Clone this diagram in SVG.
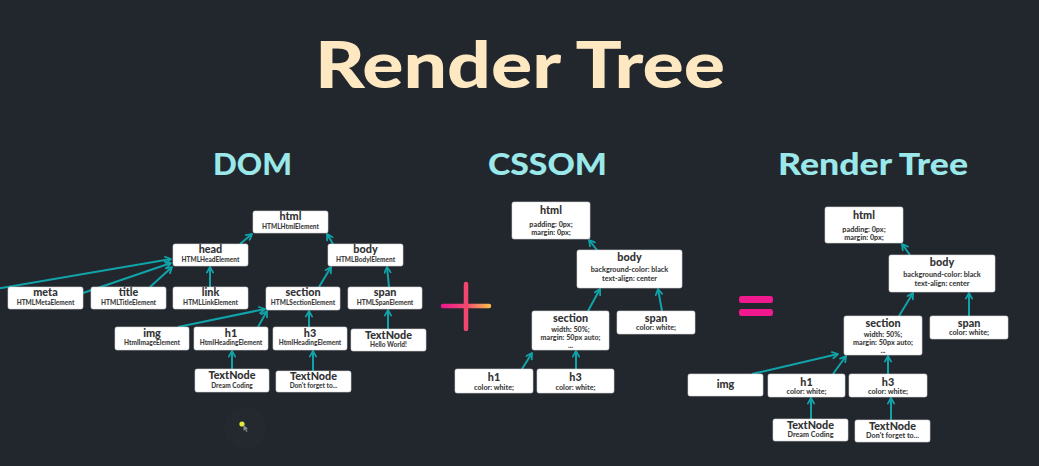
<svg xmlns="http://www.w3.org/2000/svg" width="1039" height="466" viewBox="0 0 1039 466">
<defs>
<marker id="ah" viewBox="0 0 10 10" refX="8.5" refY="5" markerWidth="8" markerHeight="8" markerUnits="userSpaceOnUse" orient="auto">
<path d="M1.5,1 L8.5,5 L1.5,9" fill="none" stroke="#10a4aa" stroke-width="2.2" stroke-linecap="round" stroke-linejoin="round"/>
</marker>
<linearGradient id="plusg" gradientUnits="userSpaceOnUse" x1="443" y1="0" x2="489" y2="0">
<stop offset="0" stop-color="#ec1a8e"/>
<stop offset="0.5" stop-color="#f24a72"/>
<stop offset="1" stop-color="#f8b84c"/>
</linearGradient>
</defs>
<style>
.bg{fill:#22272e}
.title{font-family:Lato,"Liberation Sans",sans-serif;font-weight:900;fill:#fde8c2}
.head{font-family:Lato,"Liberation Sans",sans-serif;font-weight:900;fill:#9ae8e9}
.box{fill:#ffffff;stroke:#d8d8d8;stroke-width:0.6}
.nm{font-family:Lato,"Liberation Sans",sans-serif;font-weight:900;font-size:10.8px;fill:#333335;text-anchor:middle}
.sb{font-family:Lato,"Liberation Sans",sans-serif;font-weight:900;font-size:6.5px;fill:#3e3e40;text-anchor:middle}
.pr{font-family:Lato,"Liberation Sans",sans-serif;font-weight:900;font-size:7.2px;fill:#3e3e40;text-anchor:middle}
.cn line{stroke:#10a4aa;stroke-width:2;marker-end:url(#ah)}
</style>
<rect class="bg" x="0" y="0" width="1039" height="466"/>

<text class="title" x="315" y="88" font-size="64" textLength="410" lengthAdjust="spacingAndGlyphs">Render Tree</text>
<text class="head" x="213" y="175" font-size="30" textLength="79" lengthAdjust="spacingAndGlyphs">DOM</text>
<text class="head" x="488" y="175" font-size="30" textLength="119" lengthAdjust="spacingAndGlyphs">CSSOM</text>
<text class="head" x="778" y="175" font-size="30" textLength="190" lengthAdjust="spacingAndGlyphs">Render Tree</text>

<g id="plus">
<line x1="443" y1="306" x2="489" y2="306" stroke="url(#plusg)" stroke-width="4.5" stroke-linecap="round"/>
<line x1="466" y1="284" x2="466" y2="329" stroke="#f2466f" stroke-width="4.5" stroke-linecap="round"/>
</g>
<g id="equals">
<rect x="739" y="296" width="34" height="7" rx="2.5" fill="#f0198d"/>
<rect x="739" y="309" width="34" height="7" rx="2.5" fill="#f0198d"/>
</g>

<g id="cursor">
<circle cx="245" cy="428" r="21" fill="#242930"/>
<circle cx="242" cy="424" r="2.6" fill="#e4ea3a"/>
<path d="M243.5,425 L243.5,431 L245,429.5 L246.5,432 L247.5,431.5 L246.3,429 L248,428.8 Z" fill="#8a8c90"/>
</g>

<g class="cn" id="connectors">
<!-- DOM -->
<line x1="240" y1="244" x2="252" y2="234"/>
<line x1="333" y1="244" x2="327" y2="234"/>
<line x1="-5" y1="289" x2="171" y2="259"/>
<line x1="83" y1="293" x2="171" y2="263"/>
<line x1="150" y1="287" x2="172" y2="267"/>
<line x1="210" y1="287" x2="210" y2="267"/>
<line x1="319" y1="287" x2="331" y2="267"/>
<line x1="389" y1="287" x2="387" y2="267"/>
<line x1="178" y1="327" x2="265" y2="309"/>
<line x1="258" y1="327" x2="267" y2="311"/>
<line x1="309" y1="327" x2="309" y2="311"/>
<line x1="388" y1="329" x2="388" y2="310"/>
<line x1="232" y1="369" x2="232" y2="351"/>
<line x1="313" y1="371" x2="313" y2="351"/>
<!-- CSSOM -->
<line x1="597" y1="250" x2="589" y2="240"/>
<line x1="588" y1="311" x2="600" y2="289"/>
<line x1="662" y1="311" x2="658" y2="289"/>
<line x1="522" y1="369" x2="532" y2="353"/>
<line x1="576" y1="369" x2="576" y2="351"/>
<!-- Render Tree -->
<line x1="910" y1="255" x2="902" y2="244"/>
<line x1="899" y1="316" x2="913" y2="293"/>
<line x1="969" y1="316" x2="969" y2="293"/>
<line x1="752" y1="374" x2="838" y2="354"/>
<line x1="833" y1="374" x2="846" y2="356"/>
<line x1="888" y1="374" x2="888" y2="356"/>
<line x1="811" y1="419" x2="811" y2="398"/>
<line x1="891" y1="420" x2="891" y2="398"/>
</g>

<!-- DOM nodes -->
<g id="dom-html"><rect class="box" x="253" y="211" width="75" height="22" rx="2"/><text class="nm" x="290.5" y="220">html</text><text class="sb" x="290.5" y="228.5">HTMLHtmlElement</text></g>
<g id="dom-head"><rect class="box" x="173" y="244" width="75" height="22" rx="2"/><text class="nm" x="210.5" y="253">head</text><text class="sb" x="210.5" y="261.5">HTMLHeadElement</text></g>
<g id="dom-body"><rect class="box" x="328" y="244" width="75" height="22" rx="2"/><text class="nm" x="365.5" y="253">body</text><text class="sb" x="365.5" y="261.5">HTMLBodylElement</text></g>
<g id="dom-meta"><rect class="box" x="8" y="287" width="75" height="22" rx="2"/><text class="nm" x="45.5" y="296">meta</text><text class="sb" x="45.5" y="304.5">HTMLMetaElement</text></g>
<g id="dom-title"><rect class="box" x="91" y="287" width="75" height="22" rx="2"/><text class="nm" x="128.5" y="296">title</text><text class="sb" x="128.5" y="304.5">HTMLTitleElement</text></g>
<g id="dom-link"><rect class="box" x="173" y="287" width="75" height="22" rx="2"/><text class="nm" x="210.5" y="296">link</text><text class="sb" x="210.5" y="304.5">HTMLLinkElement</text></g>
<g id="dom-section"><rect class="box" x="266" y="287" width="74" height="23" rx="2"/><text class="nm" x="303" y="296">section</text><text class="sb" x="303" y="305">HTMLSectionElement</text></g>
<g id="dom-span"><rect class="box" x="348" y="287" width="74" height="22" rx="2"/><text class="nm" x="385" y="296">span</text><text class="sb" x="385" y="304.5">HTMLSpanElement</text></g>
<g id="dom-img"><rect class="box" x="115" y="327" width="74" height="23" rx="2"/><text class="nm" x="152" y="336.5">img</text><text class="sb" x="152" y="345">HtmlImageElement</text></g>
<g id="dom-h1"><rect class="box" x="194" y="327" width="74" height="23" rx="2"/><text class="nm" x="231" y="336.5">h1</text><text class="sb" x="231" y="345">HtmlHeadingElement</text></g>
<g id="dom-h3"><rect class="box" x="273" y="327" width="74" height="23" rx="2"/><text class="nm" x="310" y="336.5">h3</text><text class="sb" x="310" y="345">HtmlHeadingElement</text></g>
<g id="dom-text-hello"><rect class="box" x="351" y="329" width="75" height="22" rx="2"/><text class="nm" x="388.5" y="338.5">TextNode</text><text class="sb" x="388.5" y="346.5">Hello World!</text></g>
<g id="dom-text-dream"><rect class="box" x="195" y="369" width="74" height="23" rx="2"/><text class="nm" x="232" y="378.5">TextNode</text><text class="sb" x="232" y="387.5">Dream Coding</text></g>
<g id="dom-text-dont"><rect class="box" x="276" y="371" width="75" height="21" rx="2"/><text class="nm" x="313.5" y="380">TextNode</text><text class="sb" x="313.5" y="388">Don't forget to...</text></g>

<!-- CSSOM nodes -->
<g id="css-html"><rect class="box" x="512" y="202" width="78" height="37" rx="2"/><text class="nm" x="551" y="214">html</text><text class="pr" x="551" y="227">padding: 0px;</text><text class="pr" x="551" y="235">margin: 0px;</text></g>
<g id="css-body"><rect class="box" x="577" y="250" width="105" height="38" rx="2"/><text class="nm" x="629.5" y="260.5">body</text><text class="pr" x="629.5" y="272">background-color: black</text><text class="pr" x="629.5" y="281">text-align: center</text></g>
<g id="css-section"><rect class="box" x="532" y="311" width="77" height="39" rx="2"/><text class="nm" x="570.5" y="321.5">section</text><text class="pr" x="570.5" y="331.5">width: 50%;</text><text class="pr" x="570.5" y="340">margin: 50px auto;</text><text class="pr" x="570.5" y="348">...</text></g>
<g id="css-span"><rect class="box" x="617" y="311" width="78" height="23" rx="2"/><text class="nm" x="656" y="322">span</text><text class="pr" x="656" y="330">color: white;</text></g>
<g id="css-h1"><rect class="box" x="455" y="369" width="78" height="24" rx="2"/><text class="nm" x="494" y="381">h1</text><text class="pr" x="494" y="389.5">color: white;</text></g>
<g id="css-h3"><rect class="box" x="537" y="369" width="77" height="24" rx="2"/><text class="nm" x="575.5" y="381">h3</text><text class="pr" x="575.5" y="389.5">color: white;</text></g>

<!-- Render Tree nodes -->
<g id="rt-html"><rect class="box" x="825" y="207" width="78" height="36" rx="2"/><text class="nm" x="864" y="218.5">html</text><text class="pr" x="864" y="231.5">padding: 0px;</text><text class="pr" x="864" y="240">margin: 0px;</text></g>
<g id="rt-body"><rect class="box" x="889" y="255" width="106" height="37" rx="2"/><text class="nm" x="942" y="265.5">body</text><text class="pr" x="942" y="277">background-color: black</text><text class="pr" x="942" y="286">text-align: center</text></g>
<g id="rt-section"><rect class="box" x="844" y="316" width="78" height="39" rx="2"/><text class="nm" x="883" y="326.5">section</text><text class="pr" x="883" y="336.5">width: 50%;</text><text class="pr" x="883" y="345">margin: 50px auto;</text><text class="pr" x="883" y="353">...</text></g>
<g id="rt-span"><rect class="box" x="930" y="316" width="78" height="23" rx="2"/><text class="nm" x="969" y="327">span</text><text class="pr" x="969" y="335">color: white;</text></g>
<g id="rt-img"><rect class="box" x="688" y="374" width="75" height="22" rx="2"/><text class="nm" x="725.5" y="387.5">img</text></g>
<g id="rt-h1"><rect class="box" x="768" y="374" width="77" height="23" rx="2"/><text class="nm" x="806.5" y="385.5">h1</text><text class="pr" x="806.5" y="393.5">color: white;</text></g>
<g id="rt-h3"><rect class="box" x="849" y="374" width="78" height="23" rx="2"/><text class="nm" x="888" y="385.5">h3</text><text class="pr" x="888" y="393.5">color: white;</text></g>
<g id="rt-text-dream"><rect class="box" x="773" y="419" width="75" height="22" rx="2"/><text class="nm" x="810.5" y="428.5">TextNode</text><text class="pr" x="810.5" y="437">Dream Coding</text></g>
<g id="rt-text-dont"><rect class="box" x="855" y="420" width="75" height="22" rx="2"/><text class="nm" x="892.5" y="429.5">TextNode</text><text class="pr" x="892.5" y="438">Don't forget to...</text></g>
</svg>
